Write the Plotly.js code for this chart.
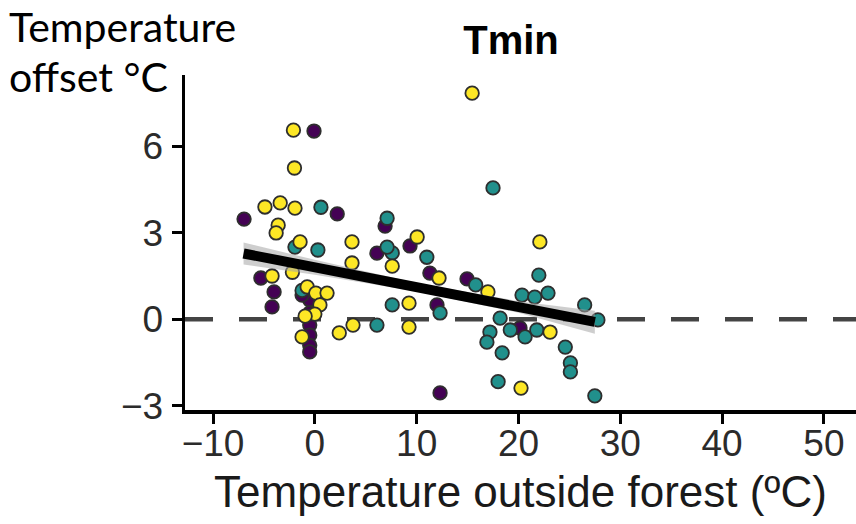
<!DOCTYPE html>
<html>
<head>
<meta charset="utf-8">
<script src="https://cdn.plot.ly/plotly-3.0.1.min.js"></script>
<style>html,body{margin:0;padding:0;background:#fff;}#chart{width:856px;height:524px;}</style>
</head>
<body>
<div id="chart"></div>
<script>
// Purple group
var purpleX = [-6.95, -0.08, 2.2, 6.9, 6.1, 9.35, 11.3, 14.95, 12.0, -5.3, -4.0, -4.2, -0.5, -0.5, -0.5, -0.5, -0.5, -0.5, -1.25, 12.3, 20.15];
var purpleY = [3.47, 6.52, 3.65, 3.23, 2.29, 2.54, 1.6, 1.4, 0.5, 1.43, 0.95, 0.43, 0.67, 0.22, -0.2, -0.55, -0.9, -1.13, 0.84, -2.55, -0.3];
// Teal group
var tealX = [0.6, 7.1, 7.6, 7.1, -1.95, 0.3, 11.0, 7.6, 6.1, 12.3, 15.8, 17.5, 22.0, 20.35, 21.6, 22.9, 26.5, 27.8, 18.2, 17.2, 16.9, 19.2, 20.65, 21.8, 18.4, 24.6, 25.1, 25.1, 18.0, 27.5, -1.25];
var tealY = [3.88, 3.5, 2.3, 2.5, 2.5, 2.4, 2.15, 0.5, -0.2, 0.22, 1.19, 4.55, 1.53, 0.84, 0.77, 0.91, 0.5, -0.02, 0.04, -0.44, -0.79, -0.37, -0.61, -0.37, -1.16, -0.96, -1.51, -1.82, -2.16, -2.65, 1.0];
// Yellow group
var yellowX = [-2.1, -2.0, -4.9, -3.4, -1.95, -3.6, -3.8, 3.65, -1.45, 3.65, -4.2, -0.75, 0.1, 1.2, 0.5, 0.0, -0.95, -1.25, 2.4, 3.75, 10.05, 7.6, 12.2, 17.0, 9.25, 9.25, 15.45, 22.1, 23.1, 20.25, -2.2];
var yellowY = [6.55, 5.24, 3.89, 4.03, 3.85, 3.26, 2.99, 2.68, 2.68, 1.95, 1.5, 1.12, 0.91, 0.91, 0.5, 0.18, 0.11, -0.61, -0.47, -0.2, 2.85, 1.84, 1.43, 0.95, 0.56, -0.27, 7.83, 2.68, -0.44, -2.38, 1.63];
// Fitted line and confidence band
var fitX = [-7, 0, 10, 20, 27.5];
var fitY = [2.28, 1.80, 1.11, 0.43, -0.09];
var bandUpper = [2.66, 2.06, 1.26, 0.63, 0.3];
var bandLower = [1.9, 1.54, 0.96, 0.23, -0.5];
// Axis ticks
var xTicks = [-10, 0, 10, 20, 30, 40, 50];
var yTicks = [-3, 0, 3, 6];
var zeroLineX = [-12.75, 53.15];
var zeroLineY = [0, 0];

function pts(x, y, color) {
  return {x: x, y: y, type: 'scatter', mode: 'markers', hoverinfo: 'skip',
    marker: {size: 13.5, color: color, line: {color: '#2e2e2e', width: 1.8}}};
}
function minusLabel(v) { return v < 0 ? '\u2212' + Math.abs(v) : String(v); }

var traces = [
  {x: zeroLineX, y: zeroLineY, type: 'scatter', mode: 'lines', hoverinfo: 'skip',
   line: {color: '#444444', width: 4.5, dash: '28px,26px'}},
  pts(purpleX, purpleY, '#440154'),
  pts(tealX, tealY, '#21908C'),
  pts(yellowX, yellowY, '#FDE725'),
  {x: fitX, y: bandLower, type: 'scatter', mode: 'lines', line: {width: 0}, hoverinfo: 'skip'},
  {x: fitX, y: bandUpper, type: 'scatter', mode: 'lines', line: {width: 0}, fill: 'tonexty',
   fillcolor: 'rgba(165,165,165,0.55)', hoverinfo: 'skip'},
  {x: fitX, y: fitY, type: 'scatter', mode: 'lines', line: {color: '#000000', width: 10}, hoverinfo: 'skip'}
];

var sansFont = "'Liberation Sans', Arial, sans-serif";
var tickFont = {family: sansFont, size: 37, color: '#2b2b2b'};

var layout = {
  width: 856, height: 524,
  margin: {l: 185, r: 0, t: 75, b: 114, pad: 0},
  paper_bgcolor: '#ffffff', plot_bgcolor: '#ffffff',
  showlegend: false,
  title: {text: '<b>Tmin</b>', font: {family: sansFont, size: 40, color: '#000'},
          xref: 'container', x: 0.597, xanchor: 'center', yref: 'container', y: 0.924, yanchor: 'middle'},
  xaxis: {range: [-12.75, 53.15], tickvals: xTicks, ticktext: xTicks.map(minusLabel),
          showgrid: false, zeroline: false, showline: true, linecolor: '#000', linewidth: 3.5,
          ticks: 'outside', ticklen: 10, tickwidth: 3, tickcolor: '#000', tickfont: tickFont, ticklabelstandoff: -12,
          title: {text: 'Temperature outside forest (\u00baC)', font: {family: sansFont, size: 44, color: '#1a1a1a'}, standoff: 14}},
  yaxis: {range: [-3.14, 8.46], tickvals: yTicks, ticktext: yTicks.map(minusLabel),
          showgrid: false, zeroline: false, showline: true, linecolor: '#000', linewidth: 3.5,
          ticks: 'outside', ticklen: 10, tickwidth: 3, tickcolor: '#000', tickfont: tickFont, ticklabelstandoff: 1},
  annotations: [
    {text: 'Temperature', xref: 'paper', yref: 'paper', x: -0.266, y: 1.145, xanchor: 'left', yanchor: 'middle',
     showarrow: false, font: {family: 'Lato, Noto Sans, sans-serif', size: 41, color: '#000'}},
    {text: 'offset \u00b0C', xref: 'paper', yref: 'paper', x: -0.266, y: 0.997, xanchor: 'left', yanchor: 'middle',
     showarrow: false, font: {family: 'Lato, Noto Sans, sans-serif', size: 41, color: '#000'}}
  ]
};

Plotly.newPlot('chart', traces, layout, {staticPlot: true, displayModeBar: false});
</script>
</body>
</html>
